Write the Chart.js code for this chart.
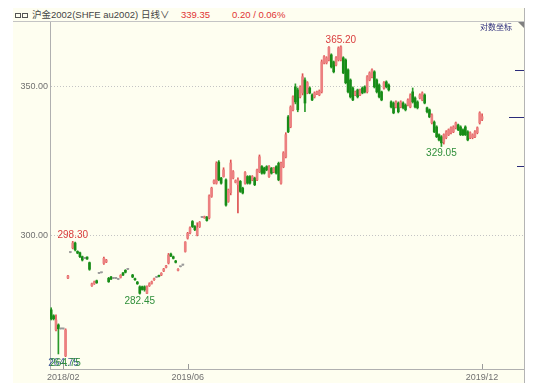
<!DOCTYPE html>
<html>
<head>
<meta charset="utf-8">
<script src="https://cdn.jsdelivr.net/npm/chart.js@4/dist/chart.umd.min.js"></script>
<style>
	body { margin: 0; width: 550px; height: 390px; overflow: hidden; background: #fff; position: relative; font-family: "Liberation Sans", Arial, "Noto Sans CJK SC", sans-serif; }
	#panel { position: absolute; left: 13px; top: 8px; width: 511px; height: 375px; background: #fefef0; border-right: 1px solid #b4b4b4; }
	#hdr { position: absolute; left: 0; top: 0; width: 511px; height: 13px; border-bottom: 1px solid #c4c4c4; font-size: 9.5px; line-height: 13px; color: #444; white-space: nowrap; }
	#hdr span { position: absolute; top: 0; }
	#hdr .red { color: #e03434; }
	.box { display: inline-block; width: 4px; height: 3px; border: 1px solid #555; vertical-align: middle; }
	#wrap { position: absolute; left: 0; top: 14px; width: 511px; height: 361px; }
	#logtag { position: absolute; right: 12px; top: 14px; font-size: 8px; line-height: 9px; color: #2b2b7a; font-family: "Noto Sans CJK SC", sans-serif; }
	#corner { position: absolute; right: 0; top: 14px; width: 0; height: 0; border-top: 6px solid #808080; border-left: 6px solid transparent; }
</style>
</head>
<body>
<div id="panel">
	<div id="hdr">
		<span style="left:2px"><i class="box"></i><i class="box" style="margin-left:1px"></i></span>
		<span style="left:19px">沪金2002(SHFE au2002)</span>
		<span style="left:128px">日线∨</span>
		<span class="red" style="left:168px">339.35</span>
		<span class="red" style="left:219px">0.20 / 0.06%</span>
	</div>
	<div id="wrap"><canvas id="chart" width="511" height="361"></canvas></div>
	<div id="logtag">对数坐标</div>
	<div id="corner"></div>
</div>
<script>
// daily candles of au2002, one entry per trading day (null = no trade)
var open = [
	277.9,276.2,272.2,273.6,272.5,272.5,265.0,287.2,294.9,296.3,
	297.8,295.2,294.8,293.6,293.1,293.5,291.8,284.9,285.5,286.4,
	288.6,288.8,291.6,292.0,287.1,287.5,287.1,287.1,286.8,287.4,
	288.7,289.5,289.8,null,288.1,287.0,286.0,284.6,284.6,284.6,
	282.7,284.9,285.6,286.7,287.4,288.0,288.1,289.3,290.4,291.7,
	294.4,293.6,292.3,289.5,290.6,291.1,295.2,299.3,300.9,304.5,
	302.9,300.3,302.9,305.8,305.7,305.9,305.6,312.5,316.9,316.8,
	323.8,318.5,319.0,317.9,310.9,313.7,318.5,317.1,316.3,317.4,
	315.2,316.8,319.0,319.0,317.9,318.5,317.9,320.6,322.3,321.8,
	322.3,319.0,321.8,320.6,322.3,323.4,316.8,322.2,325.5,339.3,
	335.8,341.8,350.0,348.9,346.4,347.8,352.5,347.8,349.6,347.1,
	346.4,347.5,347.1,348.2,358.8,358.8,359.9,361.8,359.2,358.0,
	359.9,359.9,360.7,359.9,356.2,352.5,349.6,347.1,348.9,347.1,
	349.6,350.0,348.2,352.5,353.7,355.5,352.5,350.7,348.2,349.6,
	351.8,350.7,344.6,344.2,342.8,344.2,342.8,344.2,343.5,343.5,
	342.8,348.2,346.0,344.6,346.0,345.3,347.1,342.5,341.8,337.2,
	337.5,335.8,333.1,332.4,330.6,332.1,333.1,333.8,334.1,335.5,
	336.5,335.8,334.8,335.8,334.1,332.1,332.1,332.4,333.8,337.2,
	338.5
];
var high = [
	278.5,276.5,276.5,273.9,272.6,272.6,272.5,288.0,295.0,298.3,
	298.1,295.4,295.0,293.8,293.2,293.6,292.0,285.7,286.3,286.6,
	288.7,288.9,293.5,292.8,287.4,287.7,287.2,287.2,286.9,288.2,
	288.9,289.7,289.9,null,288.3,287.2,286.2,284.9,284.8,284.9,
	284.9,285.8,286.3,287.2,287.5,288.1,288.8,290.1,291.0,294.6,
	294.7,293.8,292.5,290.0,290.7,291.2,298.2,301.1,302.8,304.8,
	303.2,304.1,304.5,305.9,306.2,306.1,313.0,315.5,317.9,323.9,
	324.3,318.7,321.9,318.2,314.9,324.5,321.0,317.9,318.6,317.7,
	315.5,320.6,319.3,319.3,319.3,318.8,321.5,326.2,322.6,322.1,
	322.6,322.6,322.0,322.0,322.6,323.8,323.8,327.3,333.8,339.8,
	343.2,346.8,351.1,349.6,350.4,354.8,353.3,351.9,350.0,347.5,
	348.2,348.5,348.9,359.9,361.5,361.1,364.9,362.2,359.5,361.1,
	364.8,365.2,361.1,360.3,356.6,352.9,350.0,348.5,349.2,349.2,
	350.0,350.4,354.1,355.5,356.6,355.9,352.9,351.1,348.5,351.9,
	352.2,351.1,345.0,344.6,345.0,344.6,345.0,344.6,343.9,345.7,
	347.5,349.6,346.4,345.0,347.5,348.2,347.5,342.8,342.1,340.4,
	337.9,336.2,333.4,332.8,333.4,334.5,335.1,335.8,336.2,337.5,
	336.8,336.2,335.1,336.2,334.5,334.1,333.4,334.5,335.8,341.1,
	340.4
];
var low = [
	275.0,275.0,271.9,265.5,272.4,272.4,264.75,287.0,294.8,296.0,
	295.4,294.5,293.3,292.3,293.0,292.8,289.5,284.7,285.3,285.6,
	288.5,288.7,291.3,291.8,285.9,286.7,287.0,287.0,286.7,287.2,
	287.9,288.7,289.7,null,287.3,286.5,285.3,282.45,283.6,283.3,
	282.6,284.7,285.4,286.5,287.3,287.5,287.9,289.1,290.2,291.4,
	293.6,292.9,291.7,289.3,290.5,291.0,295.0,299.0,300.6,302.6,
	301.6,300.0,302.6,305.7,305.5,304.6,305.3,312.2,316.6,316.5,
	317.6,316.5,318.8,309.4,310.6,313.0,318.2,316.9,307.2,313.8,
	313.3,316.5,316.5,316.5,317.6,316.0,317.6,320.3,319.8,319.8,
	320.9,318.7,319.8,320.3,319.8,317.6,316.5,321.9,325.2,333.8,
	335.5,341.4,343.9,341.1,346.0,347.1,341.1,347.5,347.5,345.0,
	346.0,347.2,346.8,347.8,358.4,358.4,359.5,356.9,355.1,357.7,
	359.5,359.5,354.8,351.1,347.8,346.0,345.0,346.8,346.0,346.8,
	347.5,347.8,347.8,352.2,353.3,349.6,347.8,346.0,345.0,349.2,
	349.6,348.5,342.5,340.4,342.5,340.7,342.5,342.1,341.4,343.2,
	342.5,344.2,342.5,342.1,345.7,345.0,343.9,340.7,339.0,336.8,
	333.8,332.1,331.0,329.05,329.9,331.7,332.8,333.4,333.8,335.1,
	334.5,332.8,332.8,332.8,331.0,331.7,331.7,332.1,333.4,336.8,
	338.0
];
var close = [
	275.3,275.3,275.0,272.5,272.5,272.5,272.2,287.8,294.9,297.8,
	295.7,294.7,293.6,292.6,293.1,292.9,289.8,285.5,286.1,285.8,
	288.6,288.8,293.1,292.6,286.1,286.9,287.1,287.1,286.8,288.0,
	288.1,288.9,289.8,null,287.5,286.7,285.5,282.7,283.8,283.7,
	284.6,285.5,286.1,287.0,287.4,287.7,288.6,289.9,290.8,294.1,
	293.8,293.1,291.9,289.8,290.6,291.1,298.1,300.8,302.5,302.9,
	301.9,302.5,304.2,305.8,306.0,304.8,312.7,315.2,317.6,323.4,
	317.9,316.8,321.2,309.7,314.6,323.5,320.6,317.6,317.9,314.1,
	313.6,320.3,316.8,316.8,319.0,316.3,321.2,325.6,320.1,320.1,
	321.2,322.3,320.1,321.8,320.1,317.9,323.4,326.9,333.1,334.1,
	342.8,346.4,344.6,341.8,350.0,353.7,344.2,351.5,347.8,345.3,
	347.8,348.2,348.5,359.2,361.1,360.7,364.6,357.3,355.5,360.7,
	364.4,364.8,355.1,351.5,348.2,346.4,345.3,348.2,346.4,348.9,
	347.8,348.2,353.7,355.1,356.2,350.0,348.2,346.4,345.3,351.5,
	350.0,348.9,342.8,340.7,344.6,341.1,344.6,342.5,341.8,345.3,
	347.1,344.6,342.8,342.5,347.1,347.8,344.2,341.1,339.3,340.0,
	334.1,332.4,331.3,330.3,333.1,334.1,334.8,335.5,335.8,337.2,
	334.8,333.1,333.1,333.1,331.3,333.8,333.1,334.1,335.5,340.7,
	339.35
];

var slots = 198; // trading-day slots on the x axis, the tail is left empty
var dayLabels = { 5: '2018/02', 57: '2019/06', 180: '2019/12' };
var yTicks = [300, 350];
var yRange = [261.4, 374.3];
var markedHighs = [9, 121];
var markedLows = [6, 37, 163];
var sideMarks = [356.2, 339.35, 322.5];

var days = [];
for (var i = 0; i < slots; i++) days.push(i);

var bodies = [], wicks = [], bodyColors = [], wickColors = [];
for (var i = 0; i < open.length; i++) {
	if (open[i] === null) {
		bodies.push(null); wicks.push(null);
		bodyColors.push('#9a9a9a'); wickColors.push('#9a9a9a');
		continue;
	}
	bodies.push([open[i], close[i]]);
	wicks.push([low[i], high[i]]);
	if (close[i] > open[i]) {
		bodyColors.push('#ec8080'); wickColors.push('#dd5050');
	} else if (close[i] < open[i]) {
		bodyColors.push('#178c17'); wickColors.push('#2a9a2a');
	} else {
		bodyColors.push('#9a9a9a'); wickColors.push('#9a9a9a');
	}
}

/* extra drawing: high/low tags, right-side price marks, date ticks */
var overlay = {
	id: 'overlay',
	afterDatasetsDraw: function (chart) {
		var ctx = chart.ctx, x = chart.scales.x, y = chart.scales.y, area = chart.chartArea;
		ctx.save();
		ctx.font = '10px "Liberation Sans", Arial, sans-serif';
		ctx.textAlign = 'center';

		ctx.textBaseline = 'bottom';
		ctx.fillStyle = '#d93c3c';
		markedHighs.forEach(function (i) {
			ctx.fillText(high[i].toFixed(2), x.getPixelForValue(i), y.getPixelForValue(high[i]) - 1);
		});

		ctx.textBaseline = 'top';
		markedLows.forEach(function (i, n) {
			var px = x.getPixelForValue(i), py = y.getPixelForValue(low[i]) + 2;
			if (n === 0) {
				ctx.fillStyle = 'rgba(30,60,140,0.85)';
				ctx.fillText(low[i].toFixed(2), px - 2, py);
			}
			ctx.fillStyle = '#2f8f3a';
			ctx.fillText(low[i].toFixed(2), px, py);
		});

		ctx.strokeStyle = '#2b2b7a';
		ctx.lineWidth = 1;
		sideMarks.forEach(function (v, n) {
			var py = Math.round(y.getPixelForValue(v)) + 0.5;
			var len = n === 1 ? 15 : (n === 0 ? 9 : 7);
			ctx.beginPath();
			ctx.moveTo(area.right - len, py);
			ctx.lineTo(area.right, py);
			ctx.stroke();
		});

		ctx.strokeStyle = '#9a9a9a';
		Object.keys(dayLabels).forEach(function (k) {
			var px = Math.round(x.getPixelForValue(+k)) + 0.5;
			ctx.beginPath();
			ctx.moveTo(px, area.bottom - 5);
			ctx.lineTo(px, area.bottom);
			ctx.stroke();
		});
		ctx.restore();
	}
};

new Chart(document.getElementById('chart'), {
	type: 'bar',
	data: {
		labels: days,
		datasets: [{
			label: 'wick',
			data: wicks,
			backgroundColor: wickColors,
			barThickness: 1,
			grouped: false,
			order: 2
		}, {
			label: 'body',
			data: bodies,
			backgroundColor: bodyColors,
			barThickness: 2,
			minBarLength: 1,
			grouped: false,
			order: 1
		}]
	},
	options: {
		responsive: false,
		animation: false,
		events: [],
		layout: { padding: 0 },
		plugins: { legend: { display: false }, tooltip: { enabled: false } },
		scales: {
			x: {
				type: 'category',
				offset: true,
				grid: { display: false, drawTicks: false },
				border: { color: '#b0b0b0' },
				ticks: {
					autoSkip: false,
					maxRotation: 0,
					padding: 3,
					color: '#707070',
					font: { size: 9, family: '"Liberation Sans", Arial, sans-serif' },
					callback: function (v, i) { return dayLabels[i] || ''; }
				},
				afterFit: function (s) { s.height = 14; s.paddingLeft = 0; s.paddingRight = 0; }
			},
			y: {
				type: 'logarithmic',
				min: yRange[0],
				max: yRange[1],
				bounds: 'data',
				grid: { color: '#c4c4c4', drawTicks: false },
				border: { color: '#b0b0b0', dash: [1, 2] },
				ticks: {
					padding: 2,
					color: '#707070',
					font: { size: 9, family: '"Liberation Sans", Arial, sans-serif' },
					callback: function (v) { return Number(v).toFixed(2); }
				},
				afterBuildTicks: function (s) { s.ticks = yTicks.map(function (v) { return { value: v }; }); },
				afterFit: function (s) { s.width = 37; s.paddingTop = 0; s.paddingBottom = 0; }
			}
		}
	},
	plugins: [overlay]
});
</script>
</body>
</html>
